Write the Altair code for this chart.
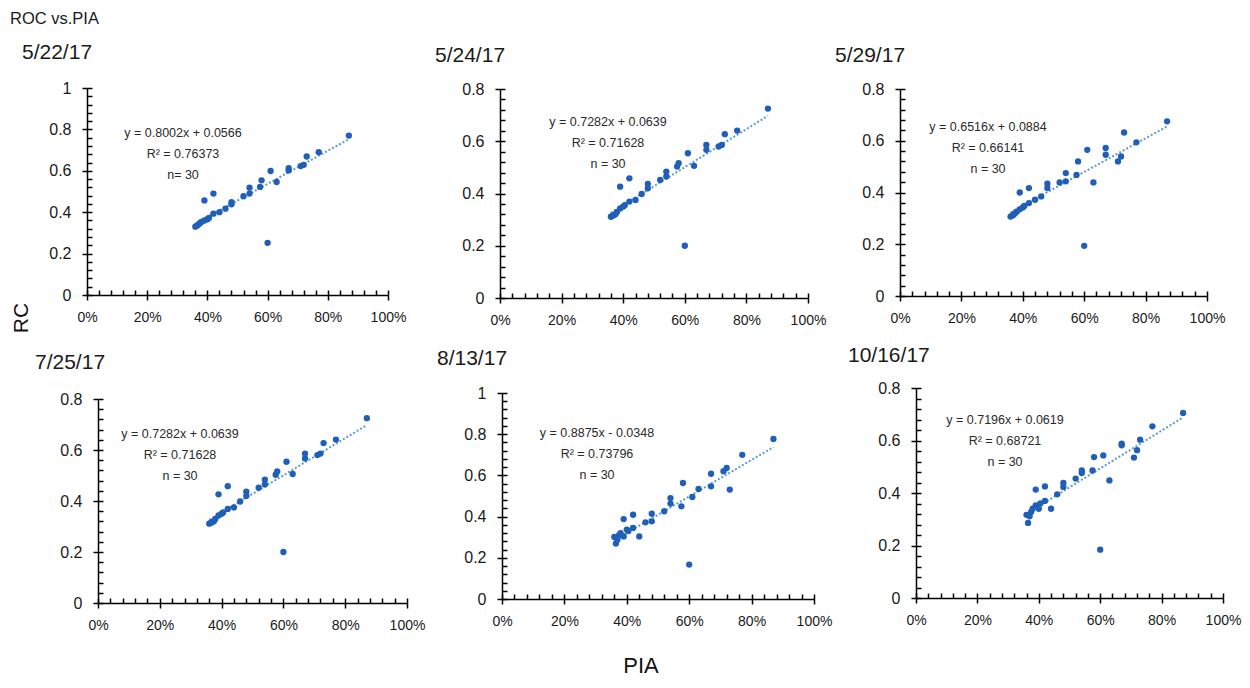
import altair as alt
import pandas as pd

# ---------------- data ----------------
dates = ["5/22/17", "5/24/17", "5/29/17", "7/25/17", "8/13/17", "10/16/17"]

pia = [0.36, 0.365, 0.37, 0.375, 0.38, 0.39, 0.39, 0.40, 0.405, 0.42,
       0.42, 0.44, 0.46, 0.48, 0.48, 0.52, 0.54, 0.54, 0.575, 0.58,
       0.60, 0.61, 0.63, 0.67, 0.67, 0.71, 0.72, 0.73, 0.77, 0.87]

rc_0522 = [0.330, 0.335, 0.340, 0.347, 0.353, 0.457, 0.360, 0.366, 0.372, 0.490,
           0.393, 0.400, 0.417, 0.438, 0.449, 0.477, 0.490, 0.518, 0.522, 0.554,
           0.252, 0.599, 0.546, 0.602, 0.613, 0.623, 0.629, 0.669, 0.690, 0.770]
rc_0524 = [0.311, 0.314, 0.318, 0.321, 0.330, 0.426, 0.343, 0.350, 0.355, 0.458,
           0.369, 0.375, 0.398, 0.420, 0.437, 0.452, 0.465, 0.484, 0.503, 0.516,
           0.200, 0.554, 0.506, 0.567, 0.586, 0.580, 0.586, 0.627, 0.641, 0.725]
rc_0529 = [0.307, 0.310, 0.314, 0.320, 0.326, 0.400, 0.335, 0.342, 0.348, 0.417,
           0.359, 0.372, 0.385, 0.417, 0.434, 0.439, 0.443, 0.475, 0.468, 0.520,
           0.194, 0.565, 0.439, 0.546, 0.572, 0.520, 0.539, 0.632, 0.594, 0.675]
rc_0725 = [0.311, 0.314, 0.318, 0.321, 0.330, 0.426, 0.343, 0.350, 0.355, 0.458,
           0.369, 0.375, 0.398, 0.420, 0.437, 0.452, 0.465, 0.484, 0.503, 0.516,
           0.200, 0.554, 0.506, 0.567, 0.586, 0.580, 0.586, 0.627, 0.641, 0.725]
rc_0813 = [0.301, 0.269, 0.288, 0.310, 0.320, 0.388, 0.304, 0.337, 0.330, 0.409,
           0.345, 0.304, 0.372, 0.414, 0.377, 0.426, 0.490, 0.463, 0.450, 0.563,
           0.167, 0.495, 0.534, 0.547, 0.608, 0.620, 0.636, 0.531, 0.700, 0.777]
rc_1016 = [0.317, 0.286, 0.311, 0.328, 0.340, 0.413, 0.353, 0.340, 0.360, 0.425,
           0.370, 0.340, 0.395, 0.423, 0.438, 0.455, 0.476, 0.486, 0.486, 0.537,
           0.184, 0.543, 0.448, 0.582, 0.588, 0.535, 0.563, 0.603, 0.654, 0.705]
rc_series = [rc_0522, rc_0524, rc_0529, rc_0725, rc_0813, rc_1016]

slopes = [0.8002, 0.7282, 0.6516, 0.7282, 0.8875, 0.7196]
intercepts = [0.0566, 0.0639, 0.0884, 0.0639, -0.0348, 0.0619]
eq_labels = ["y = 0.8002x + 0.0566", "y = 0.7282x + 0.0639", "y = 0.6516x + 0.0884",
             "y = 0.7282x + 0.0639", "y = 0.8875x - 0.0348", "y = 0.7196x + 0.0619"]
r2_labels = ["R² = 0.76373", "R² = 0.71628", "R² = 0.66141",
             "R² = 0.71628", "R² = 0.73796", "R² = 0.68721"]
n_labels = ["n= 30", "n = 30", "n = 30", "n = 30", "n = 30", "n = 30"]
y_max = [1.0, 0.8, 0.8, 0.8, 1.0, 0.8]

x_major = [0, 0.2, 0.4, 0.6, 0.8, 1.0]
x_minor = [round(k * 0.04, 2) for k in range(26)]

# ---------------- layout (screen pixels) ----------------
W, H, M = 1234, 672, 8
# x0, x1, y_top, y_bottom of each plot area
PANELS = [(87, 388, 88, 295), (500, 808, 89, 298), (900, 1207, 89, 296),
          (98, 407, 399, 603), (502, 814, 393, 599), (916, 1223, 388, 598)]
TITLE_POS = [(22, 53), (435, 56), (835, 56), (35, 363), (437, 359), (848, 356)]
EQ_POS = [(183, 133), (608, 122), (988, 127), (180, 434), (597, 433), (1005, 420)]

FONT = "Liberation Sans, Arial"
BLUE = "#1f5fb8"
TREND = "#5b9bd5"
INK = "#1a1a1a"

layers = []
for i in range(6):
    x0, x1, yt, yb = [v - M for v in PANELS[i]]
    ymax = y_max[i]
    y_major = [round(k * 0.2, 1) for k in range(int(round(ymax / 0.2)) + 1)]
    y_minor = [round(k * 0.04, 2) for k in range(int(round(ymax / 0.04)) + 1)]
    df = pd.DataFrame({"PIA": pia, "RC": rc_series[i]})
    xs = alt.Scale(domain=[0, 1], range=[x0, x1], nice=False, zero=False)
    ys = alt.Scale(domain=[0, ymax], range=[yb, yt], nice=False, zero=False)

    common = dict(grid=False, title=None, tickColor="black", domainColor="black",
                  tickWidth=1.5, domainWidth=1.5)

    trend = alt.Chart(df).transform_calculate(
        fit=f"{slopes[i]} * datum.PIA + ({intercepts[i]})"
    ).mark_line(strokeDash=[2, 2], color=TREND, strokeWidth=2).encode(
        x=alt.X("PIA:Q", scale=xs,
                axis=alt.Axis(orient="top", offset=-yb, values=x_minor, labels=False,
                              domain=False, tickSize=5, **common)),
        y=alt.Y("fit:Q", scale=ys,
                axis=alt.Axis(orient="right", offset=x0 - W, values=y_minor, labels=False,
                              domain=False, tickSize=5, **common)),
    )
    pts = alt.Chart(df).mark_circle(size=40, color=BLUE, opacity=1).encode(
        x=alt.X("PIA:Q", scale=xs,
                axis=alt.Axis(orient="bottom", offset=yb - H, values=x_major, format=".0%",
                              tickSize=5, labelPadding=10, labelFlush=False,
                              labelFont=FONT, labelFontSize=14, labelColor=INK,
                              **common)),
        y=alt.Y("RC:Q", scale=ys,
                axis=alt.Axis(orient="left", offset=-x0, values=y_major, format="~g",
                              tickSize=5, labelPadding=11, labelFlush=False,
                              labelFont=FONT, labelFontSize=16, labelColor=INK,
                              **common)),
    )
    tx, ty = TITLE_POS[i]
    title = alt.Chart(pd.DataFrame({"t": [dates[i]]})).mark_text(
        align="left", baseline="middle", font=FONT, fontSize=21, color=INK
    ).encode(text="t:N", x=alt.value(tx - M), y=alt.value(ty - M))
    ex, ey = EQ_POS[i]
    eq = alt.Chart(pd.DataFrame({"t": [f"{eq_labels[i]}\n{r2_labels[i]}\n{n_labels[i]}"]})).mark_text(
        align="center", baseline="middle", lineBreak="\n", lineHeight=21,
        font=FONT, fontSize=12.5, color="#2a2a2a"
    ).encode(text="t:N", x=alt.value(ex - M), y=alt.value(ey - M))
    layers += [trend, pts, title, eq]

main_title = alt.Chart(pd.DataFrame({"t": ["ROC vs.PIA"]})).mark_text(
    align="left", baseline="middle", font=FONT, fontSize=16.5, color=INK
).encode(text="t:N", x=alt.value(10 - M), y=alt.value(19 - M))
rc_label = alt.Chart(pd.DataFrame({"t": ["RC"]})).mark_text(
    align="center", baseline="middle", angle=270, font=FONT, fontSize=21,
    color="#111111"
).encode(text="t:N", x=alt.value(22 - M), y=alt.value(318 - M))
pia_label = alt.Chart(pd.DataFrame({"t": ["PIA"]})).mark_text(
    align="center", baseline="bottom", font=FONT, fontSize=22, color="#111111"
).encode(text="t:N", x=alt.value(641 - M), y=alt.value(H - 2))
layers += [main_title, rc_label, pia_label]

chart = alt.layer(*layers).resolve_scale(
    x="independent", y="independent"
).resolve_axis(
    x="independent", y="independent"
).properties(
    width=W, height=H, padding=0,
    autosize=alt.AutoSizeParams(type="none"),
).configure_view(stroke=None)

chart.save("out.html", embed_options={"renderer": "svg", "actions": False})
